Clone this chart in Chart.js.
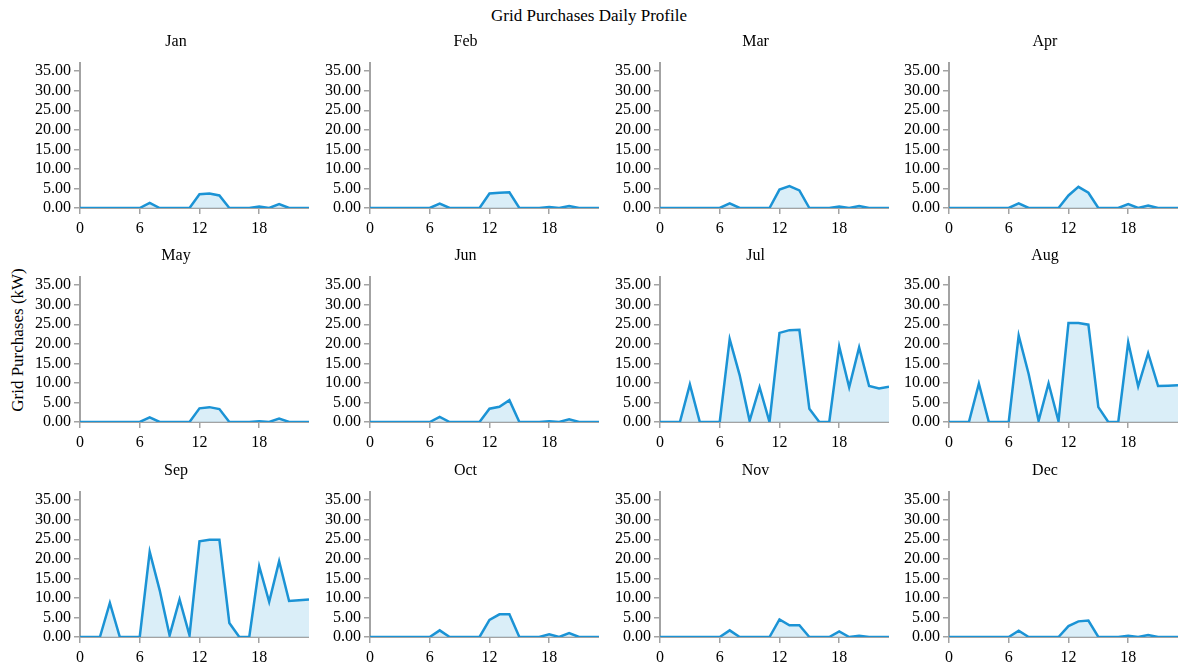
<!DOCTYPE html>
<html>
<head>
<meta charset="utf-8">
<script src="https://cdn.jsdelivr.net/npm/chart.js@4.4.1/dist/chart.umd.min.js"></script>
<style>
  body { margin:0; background:#fff; }
  #wrap { position:relative; width:1179px; height:667px; overflow:hidden; font-family:"Liberation Serif", serif; color:#000; }
  canvas { position:absolute; }
  .lbl { position:absolute; font-size:16px; white-space:nowrap; transform:translate(-50%,-50%); }
  #title { font-size:17px; }
  #ylab { position:absolute; left:18px; top:340px; font-size:17px; white-space:nowrap; transform:translate(-50%,-50%) rotate(-90deg); }
</style>
</head>
<body>
<div id="wrap">
  <div class="lbl" id="title" style="left:589px;top:16px;">Grid Purchases Daily Profile</div>
  <div id="ylab">Grid Purchases (kW)</div>
</div>
<script>
const hours = [0,1,2,3,4,5,6,7,8,9,10,11,12,13,14,15,16,17,18,19,20,21,22,23];
const months = ['Jan','Feb','Mar','Apr','May','Jun','Jul','Aug','Sep','Oct','Nov','Dec'];
const yTicks = [0,5,10,15,20,25,30,35];
const xTicks = [0,6,12,18];

const jan = [0,0,0,0,0,0,0,1.3,0,0,0,0,3.5,3.7,3.2,0,0,0,0.4,0,1.0,0,0,0];
const feb = [0,0,0,0,0,0,0,1.1,0,0,0,0,3.7,3.9,4.0,0,0,0,0.25,0,0.5,0,0,0];
const mar = [0,0,0,0,0,0,0,1.2,0,0,0,0,4.7,5.6,4.5,0,0,0,0.4,0,0.5,0,0,0];
const apr = [0,0,0,0,0,0,0,1.2,0,0,0,0,3.2,5.4,3.9,0,0,0,1.0,0,0.6,0,0,0];
const may = [0,0,0,0,0,0,0,1.2,0,0,0,0,3.5,3.8,3.3,0,0,0,0.2,0,0.9,0,0,0];
const jun = [0,0,0,0,0,0,0,1.3,0,0,0,0,3.4,3.9,5.6,0,0,0,0.2,0,0.7,0,0,0];
const jul = [0,0,0,9.6,0,0,0,21.2,12,0.3,8.9,0,22.8,23.5,23.6,3.4,0,0,19.3,8.9,19.1,9.2,8.6,9.0];
const aug = [0,0,0,9.8,0,0,0,22.1,12.3,0.3,9.9,0.2,25.3,25.3,24.9,3.8,0,0,20.4,9.1,17.6,9.2,9.3,9.4];
const sep = [0,0,0,8.7,0,0,0,21.8,12,0.4,9.6,0.4,24.5,24.9,24.9,3.6,0,0,18.1,9.0,19.4,9.2,9.4,9.6];
const oct = [0,0,0,0,0,0,0,1.7,0,0,0,0,4.4,5.8,5.8,0,0,0,0.7,0,1.0,0,0,0];
const nov = [0,0,0,0,0,0,0,1.7,0,0,0,0,4.5,3.0,3.0,0,0,0,1.4,0,0.3,0,0,0];
const dec = [0,0,0,0,0,0,0,1.6,0,0,0,0,2.8,4.0,4.2,0,0,0,0.3,0,0.5,0,0,0];
const series = [jan,feb,mar,apr,may,jun,jul,aug,sep,oct,nov,dec];

// panel placement: x of each y-axis, y of each zero line
const colX = [80, 369.5, 659.5, 949];
const rowY = [207.5, 421.7, 636.7];

const wrap = document.getElementById('wrap');
const axisGrey = '#a3a3a3';
const tickFont = { family:'"Liberation Serif", serif', size:16 };

series.forEach((vals, i) => {
  const col = i % 4, row = Math.floor(i / 4);
  const cv = document.createElement('canvas');
  cv.width = 299; cv.height = 235;
  cv.style.left = (colX[col] - 70) + 'px';
  cv.style.top = (rowY[row] - 208) + 'px';
  wrap.appendChild(cv);

  const t = document.createElement('div');
  t.className = 'lbl';
  t.textContent = months[i];
  t.style.left = (colX[col] + 96) + 'px';
  t.style.top = (rowY[row] - 167) + 'px';
  wrap.appendChild(t);

  new Chart(cv.getContext('2d'), {
    type:'line',
    data:{
      datasets:[{
        data: hours.map((h, k) => ({x:h, y:vals[k]})),
        borderColor:'#1b93d5',
        backgroundColor:'rgba(205,232,246,0.75)',
        borderWidth:2.5,
        pointRadius:0,
        tension:0,
        fill:'origin'
      }]
    },
    options:{
      responsive:false,
      animation:false,
      layout:{ padding:{ top:63, right:0, left:0, bottom:0 } },
      plugins:{ legend:{ display:false }, tooltip:{ enabled:false } },
      scales:{
        x:{
          type:'linear', min:0, max:23,
          afterBuildTicks: s => { s.ticks = xTicks.map(v => ({value:v})); },
          afterFit: s => { s.height = 27; },
          grid:{ drawOnChartArea:false, drawTicks:true, tickLength:6, color:axisGrey, lineWidth:1.5 },
          border:{ display:true, color:axisGrey, width:2 },
          ticks:{ color:'#000', font:tickFont, padding:5, maxRotation:0, autoSkip:false }
        },
        y:{
          min:0, max:37.1,
          afterBuildTicks: s => { s.ticks = yTicks.map(v => ({value:v})); },
          afterFit: s => { s.width = 70; },
          grid:{ drawOnChartArea:false, drawTicks:true, tickLength:6, color:axisGrey, lineWidth:1.5 },
          border:{ display:true, color:axisGrey, width:2 },
          ticks:{ color:'#000', font:tickFont, padding:3, autoSkip:false, callback: v => Number(v).toFixed(2) }
        }
      }
    }
  });
});
</script>
</body>
</html>
